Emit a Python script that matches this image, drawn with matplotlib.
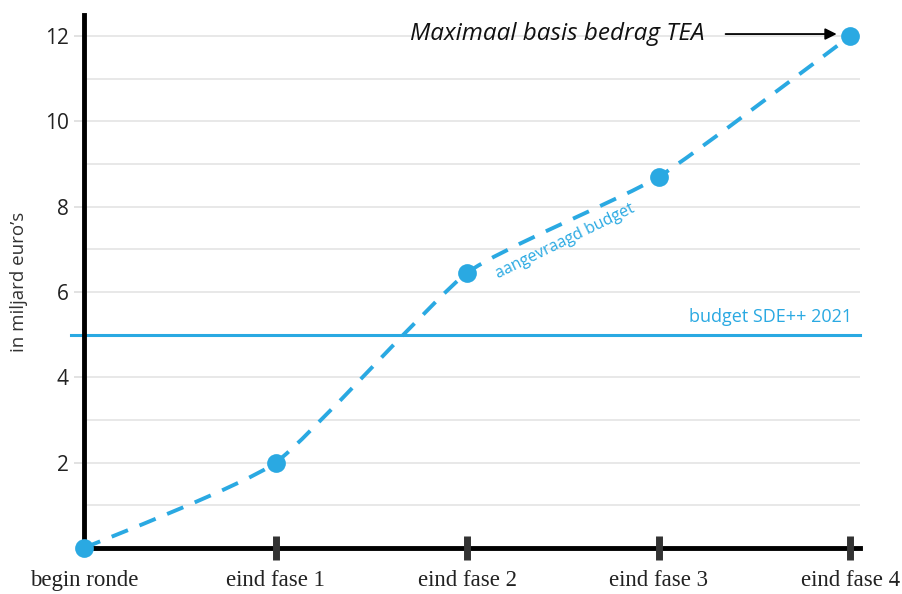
import numpy as np
import matplotlib
matplotlib.use('Agg')
import matplotlib.pyplot as plt
from matplotlib.path import Path
from matplotlib.patches import PathPatch

# ── data ─────────────────────────────────────────────────────────────
phases = ['begin ronde', 'eind fase 1', 'eind fase 2', 'eind fase 3', 'eind fase 4']
requested = [0.0, 2.0, 6.45, 8.7, 12.0]   # aangevraagd budget, mld euro
budget_2021 = 5.0                          # budget SDE++ 2021

BLUE = '#2aa9e2'

fig = plt.figure(figsize=(9.03, 5.94), dpi=100, facecolor='white')
ax = fig.add_axes([0.093, 0.0774, 0.859, 0.8976])
xs = np.arange(len(phases), dtype=float)
ax.set_xlim(0, 4.05)
ax.set_ylim(0, 12.5)

# light grid at every unit
for y in range(1, 13):
    ax.axhline(y, color='#e4e4e4', lw=1.2, zorder=0)

# gently smoothed dashed curve through the points (Catmull-Rom -> Bezier)
tension = 1.0 / 12.0
pts = np.column_stack([xs, requested])
verts = [tuple(pts[0])]
codes = [Path.MOVETO]
for i in range(len(pts) - 1):
    p0 = pts[i - 1] if i > 0 else pts[i]
    p1, p2 = pts[i], pts[i + 1]
    p3 = pts[i + 2] if i + 2 < len(pts) else pts[i + 1]
    c1 = p1 + (p2 - p0) * tension
    c2 = p2 - (p3 - p1) * tension
    verts += [tuple(c1), tuple(c2), tuple(p2)]
    codes += [Path.CURVE4] * 3
curve = PathPatch(Path(verts, codes), fill=False, edgecolor=BLUE, lw=2.8,
                  linestyle=(0, (4.5, 3.2)), zorder=3, clip_on=False)
ax.add_patch(curve)
ax.plot(xs, requested, 'o', color=BLUE, ms=13.5, mec='none', zorder=4, clip_on=False)

# budget line
ax.plot([-0.07, 4.05], [budget_2021, budget_2021], color=BLUE, lw=2.2,
        zorder=2, clip_on=False)
ax.text(4.01, budget_2021 + 0.2, 'budget SDE++ 2021', color=BLUE, fontsize=13,
        family='Open Sans', ha='right', va='bottom')

# label along the requested-budget curve
ax.text(2.51, 7.2, 'aangevraagd budget', color=BLUE, fontsize=11.5,
        family='Open Sans', rotation=26, ha='center', va='center')

# annotation of the top point
ax.annotate('', xy=(3.93, 12.05), xytext=(3.35, 12.05),
            arrowprops=dict(arrowstyle='-|>', color='black', lw=1.3,
                            mutation_scale=17, shrinkA=0, shrinkB=0))
ax.text(3.24, 12.05, 'Maximaal basis bedrag TEA', fontsize=17.5, style='italic',
        family='Open Sans', ha='right', va='center', color='#111111')

# axes styling
for s in ['top', 'right']:
    ax.spines[s].set_visible(False)
ax.spines['left'].set_linewidth(3.5)
ax.spines['bottom'].set_linewidth(3.5)
ax.spines['left'].set_color('black')
ax.spines['bottom'].set_color('black')

ax.set_yticks(range(2, 13, 2))
ax.set_yticklabels([str(v) for v in range(2, 13, 2)], fontsize=15,
                   family='Open Sans', color='#222222')
ax.tick_params(axis='y', length=7, width=1.2, color='#dddddd', pad=4)

ax.set_xticks(xs)
ax.set_xticklabels(phases, fontsize=16.5, family='Liberation Serif', color='#222222')
ax.tick_params(axis='x', length=0, pad=16)
# thick tick bars on the x axis
for x in xs[1:]:
    ax.plot([x, x], [-0.28, 0.28], color='#333333', lw=5, solid_capstyle='butt',
            zorder=5, clip_on=False)

ax.set_ylabel("in miljard euro\u2019s", fontsize=13.5, family='Open Sans',
              color='#333333', labelpad=12)

plt.savefig('out.png', dpi=100, facecolor='white')
plt.close()
